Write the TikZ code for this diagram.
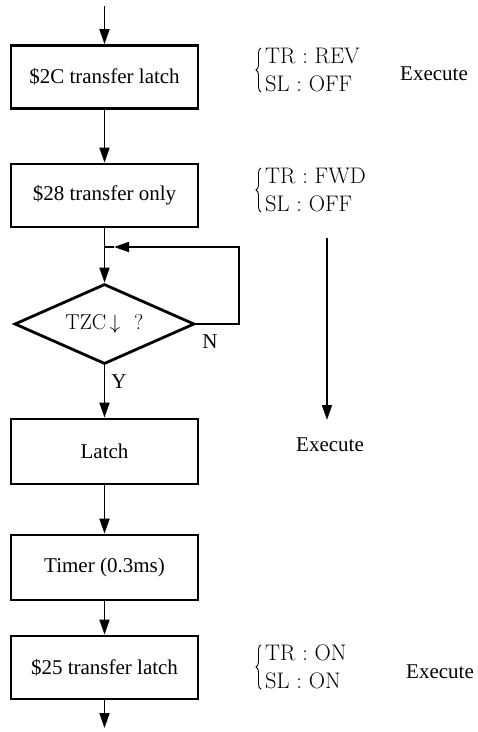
\documentclass[tikz,border=0pt]{standalone}
\usepackage{fontspec}
\newfontfamily\tmsfont{Liberation Serif}
\usetikzlibrary{arrows.meta,shapes.geometric,decorations.pathreplacing}
\begin{document}
\begin{tikzpicture}[x=1pt,y=-1pt,
  box/.style={draw, line width=2.8pt, minimum width=187pt, minimum height=63pt, inner sep=0pt,
    font=\tmsfont\fontsize{21}{25}\selectfont},
  arr/.style={line width=1.8pt, -{Triangle[length=15pt,width=10pt]}},
  plain/.style={line width=1.8pt},
  rtext/.style={font=\fontsize{22.5}{28}\selectfont, align=left, inner sep=0pt, anchor=west},
  exe/.style={font=\tmsfont\fontsize{21}{25}\selectfont, inner sep=0pt},
  brc/.style={decorate, decoration={brace, amplitude=5pt}, line width=0.9pt},
  lbl/.style={font=\tmsfont\fontsize{21}{25}\selectfont, inner sep=0pt}]
\useasboundingbox (0,0) rectangle (478,732);

% flow chart
\coordinate (s) at (104.5,6);
\node[box] (b1) at (104.5,77) {\$2C transfer latch};
\node[box] (b2) at (104.5,195.5) {\$28 transfer only};
\node[draw, diamond, line width=2.8pt, minimum width=180pt, minimum height=80pt, aspect=2.25,
  inner sep=0pt, font=\fontsize{21.5}{25}\selectfont] (d) at (104.5,324) {TZC\,$\downarrow$\hspace{14pt}?};
\node[box, minimum height=65pt] (b3) at (104.5,451.5) {Latch};
\node[box, minimum height=65pt] (b4) at (104.5,567.5) {Timer (0.3ms)};
\node[box] (b5) at (104.5,667.5) {\$25 transfer latch};
\coordinate (e) at (104.5,728);

\draw[arr] (s) -- (b1.north);
\draw[arr] (b1.south) -- (b2.north);
\draw[arr] (b2.south) -- (d.north);
\draw[arr] (d.south) -- (b3.north);
\draw[arr] (b3.south) -- (b4.north);
\draw[arr] (b4.south) -- (b5.north);
\draw[arr] (b5.south) -- (e);

% loop back
\coordinate (lr) at (239,324);
\coordinate (tip) at (114,247);
\coordinate (join) at (104.5,247);
\draw[arr] (d.east) -- (lr) |- (tip);
\draw[plain] (tip) -- (join);
\node[lbl] (nlab) at (210,342) {N};
\node[lbl] (ylab) at (119,382) {Y};

% right-hand annotations
\node[rtext] (t1) at (265,70) {TR : REV\\SL : OFF};
\draw[brc] ([xshift=-4pt]t1.south west) -- ([xshift=-4pt]t1.north west);
\node[exe] (x1) at (434,74) {Execute};

\node[rtext] (t2) at (265,190) {TR : FWD\\SL : OFF};
\draw[brc] ([xshift=-4pt]t2.south west) -- ([xshift=-4pt]t2.north west);

\coordinate (la1) at (327,238);
\coordinate (la2) at (327,420);
\draw[arr] (la1) -- (la2);
\node[exe] (x2) at (330,445) {Execute};

\node[rtext] (t3) at (265,667) {TR : ON\\SL : ON};
\draw[brc] ([xshift=-4pt]t3.south west) -- ([xshift=-4pt]t3.north west);
\node[exe] (x3) at (440,672) {Execute};
\end{tikzpicture}
\end{document}
